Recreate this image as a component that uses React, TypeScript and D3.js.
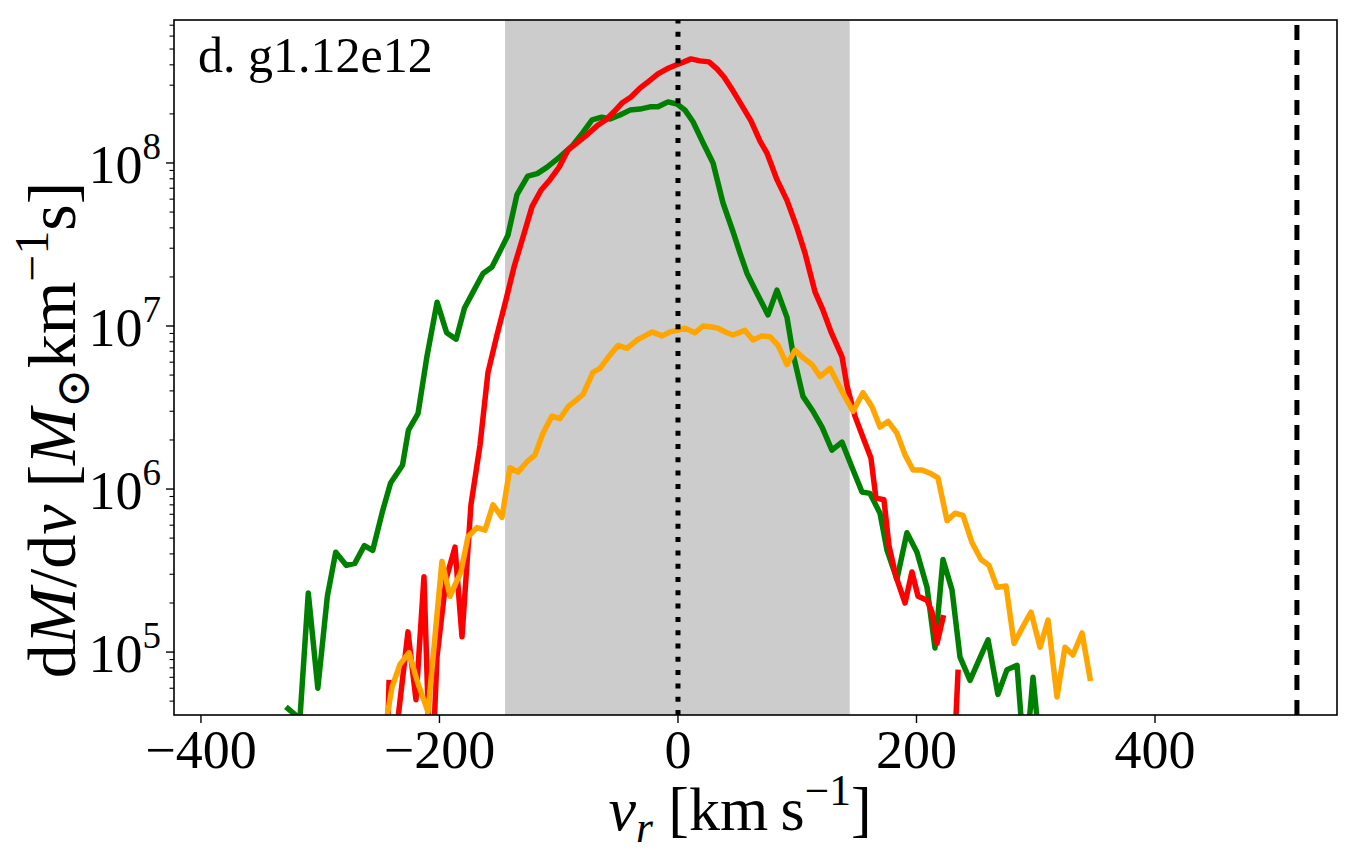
import React, { useEffect, useRef } from "react";
import * as d3 from "d3";

// radial velocity [km/s] and dM/dv [Msun km^-1 s]
// null = point not drawn (gap in the line)
const greenV = [
  -327, -317, -310, -302, -294, -287, -278, -271, -263, -256, -248, -241, -231, -226, -218, -210.5,
  -202, -194, -186, -179, -171, -163.5, -156, -149, -142.6, -135, -126, -118, -110, -99, -88, -80,
  -72, -64, -57, -48.6, -40.3, -31.9, -23.5, -16.8, -8.4, -0.8, 5.9, 12.6, 21, 29.4, 37.7, 46.1,
  52, 57.9, 66.2, 75.5, 83, 91.4, 96.4, 104.8, 113.2, 120.8, 129.1, 137.5, 145.9, 154.3, 161,
  169.4, 175.3, 183.6, 192, 200.4, 208.8, 215.5, 222.2, 229.8, 236.5, 244.9, 253.2, 260, 268.3,
  275.9, 284.3, 291, 297.7, 305.2,
];
const greenM = [
  4.5e4, 3.9e4, 2.3e5, 6.0e4, 2.2e5, 4.1e5, 3.4e5, 3.5e5, 4.5e5, 4.2e5, 7.2e5, 1.09e6, 1.4e6, 2.3e6,
  2.9e6, 6.5e6, 1.4e7, 9.1e6, 8.3e6, 1.29e7, 1.66e7, 2.1e7, 2.3e7, 2.9e7, 3.6e7, 6.4e7, 8.3e7,
  8.6e7, 9.4e7, 1.09e8, 1.29e8, 1.53e8, 1.84e8, 1.91e8, 1.86e8, 1.97e8, 2.11e8, 2.14e8, 2.21e8,
  2.21e8, 2.37e8, 2.3e8, 2.11e8, 1.79e8, 1.33e8, 1.0e8, 5.7e7, 3.8e7, 2.8e7, 2.1e7, 1.59e7, 1.17e7,
  1.66e7, 1.13e7, 6.8e6, 3.7e6, 3.0e6, 2.4e6, 1.73e6, 1.94e6, 1.36e6, 9.6e5, 9.4e5, 7.1e5, 4.2e5,
  2.8e5, 5.4e5, 4.1e5, 2.5e5, 1.06e5, 3.7e5, 2.4e5, 9.3e4, 6.7e4, 9.2e4, 1.19e5, 5.5e4, 7.8e4,
  8.3e4, 1.9e4, 7.0e4, 1.9e4,
];

const redV = [
  -244, -242.3, -238, -234.8, -226.4, -219.7, -213, -207.1, -202.1, -194.5, -187, -181.1, -173.6,
  -166, -159.3, -151.8, -144.2, -137.5, -130, -122.4, -114.9, -107.3, -99.8, -92.2, -84.7, -76.3,
  -67.9, -60.4, -53.7, -47, -39.4, -31.9, -24.3, -16.8, -9.2, -1.7, 5, 10.9, 18.4, 26, 32.7, 38.6,
  46.1, 53.7, 61.2, 68.8, 74.6, 83, 91.4, 99.8, 106.5, 114.9, 121.6, 128.3, 137.5, 141.7, 148.4,
  155.1, 161.8, 166, 172.7, 176.9, 182.8, 190.4, 196.2, 201.3, 208.8, 213, 217.2, 222.2, 226,
  229.8, 234.8,
];
const redM = [
  2.2e4, 6.5e4, null, 3.9e4, 1.33e5, 5.1e4, 2.9e5, 1.2e4, 9.3e4, 2.8e5, 4.4e5, 1.24e5, 8.0e5,
  1.86e6, 5.2e6, 8.8e6, 1.45e7, 2.3e7, 3.5e7, 5.4e7, 6.8e7, 7.9e7, 9.4e7, 1.2e8, 1.33e8, 1.49e8,
  1.69e8, 1.84e8, 2.06e8, 2.33e8, 2.54e8, 2.88e8, 3.18e8, 3.52e8, 3.78e8, 3.99e8, 4.17e8, 4.35e8,
  4.23e8, 4.17e8, 3.78e8, 3.37e8, 2.77e8, 2.24e8, 1.81e8, 1.36e8, 1.15e8, 7.9e7, 5.9e7, 4.0e7,
  2.8e7, 1.62e7, 1.25e7, 9.2e6, 6.5e6, 4.3e6, 2.8e6, 2.08e6, 1.55e6, 8.8e5, 8.6e5, 4.5e5, 2.9e5,
  2.0e5, 3.1e5, 2.2e5, 2.08e5, 1.76e5, 1.13e5, 1.62e5, null, 1.2e4, 7.5e4,
];

const orangeV = [
  -246.5, -239.8, -233.1, -225.6, -218, -209.6, -197.9, -191.2, -182, -176.1, -168.6, -161.8,
  -155.1, -147.6, -140.9, -134.2, -126.6, -119.9, -113.2, -105.7, -99, -92.2, -85.5, -79.7, -71.3,
  -65.4, -58.7, -50.3, -42.8, -34.4, -27.7, -21.8, -13.4, -6.7, -0.8, 5.9, 14.3, 21, 26.8, 33.5,
  41.1, 46.1, 56.2, 62.9, 70.4, 77.1, 83.9, 91.4, 98.1, 104.8, 112.4, 119.1, 127.5, 135.8, 141.7,
  146.8, 155.1, 162.7, 169.4, 176.1, 183.6, 190.4, 197.1, 204.6, 211.3, 218, 225.6, 232.3, 239,
  246.5, 254.1, 260.8, 267.5, 275.1, 281.8, 288.5, 296, 303.6, 310.3, 317.8, 324.5, 331.2, 338.8,
  345.5,
];
const orangeM = [
  3.1e4, 6.1e4, 8.4e4, 9.9e4, 6.4e4, 4.3e4, 3.6e5, 2.2e5, 3.1e5, 5.1e5, 5.8e5, 5.6e5, 8.0e5,
  6.7e5, 1.35e6, 1.27e6, 1.47e6, 1.62e6, 2.2e6, 2.8e6, 2.7e6, 3.2e6, 3.5e6, 3.8e6, 5.2e6, 5.5e6,
  6.4e6, 7.6e6, 7.3e6, 8.2e6, 8.7e6, 9.2e6, 8.7e6, 9.2e6, 9.4e6, 9.7e6, 9.1e6, 1.0e7, 9.9e6,
  9.7e6, 9.1e6, 8.8e6, 9.4e6, 8.2e6, 8.7e6, 8.6e6, 7.6e6, 5.8e6, 7.1e6, 6.4e6, 5.8e6, 4.9e6,
  5.5e6, 4.2e6, 3.5e6, 3.0e6, 3.9e6, 3.2e6, 2.4e6, 2.6e6, 2.2e6, 1.62e6, 1.31e6, 1.31e6, 1.25e6,
  1.17e6, 6.4e5, 7.1e5, 6.9e5, 4.7e5, 3.7e5, 3.4e5, 2.5e5, 2.54e5, 1.13e5, 1.4e5, 1.76e5, 1.07e5,
  1.57e5, 5.3e4, 1.07e5, 9.6e4, 1.31e5, 6.9e4,
];

const xTicks = [-400, -200, 0, 200, 400];
const xTickLabels = ["\u2212400", "\u2212200", "0", "200", "400"];
const yTicks = [1e5, 1e6, 1e7, 1e8];
const yTickExps = ["5", "6", "7", "8"];

const shade = [-145, 144];
const vMark = 519;
const panelLabel = "d. g1.12e12";

const FONT = "'Liberation Serif', 'DejaVu Serif', serif";

type Part = { t: string; it?: boolean; pos?: "sub" | "sup" };

// append tspans with italics / sub / superscripts
function richText(sel: any, parts: Part[], size: number) {
  let shift = 0;
  parts.forEach((p) => {
    const target = p.pos === "sub" ? size * 0.2 : p.pos === "sup" ? -size * 0.4 : 0;
    sel
      .append("tspan")
      .attr("dy", target - shift)
      .attr("font-size", p.pos ? size * 0.7 : size)
      .attr("font-style", p.it ? "italic" : "normal")
      .text(p.t);
    shift = target;
  });
}

const Chart = () => {
  const svgRef = useRef<SVGSVGElement>(null);

  useEffect(() => {
    const W = 1359;
    const H = 862;
    const left = 174;
    const right = 1337;
    const top = 20;
    const bottom = 715;

    const svg = d3.select(svgRef.current);
    svg.selectAll("*").remove();
    svg.attr("width", W).attr("height", H);

    const x = d3.scaleLinear().domain([-422.6, 552.6]).range([left, right]);
    const y = d3
      .scaleLog()
      .domain([Math.pow(10, 4.614), Math.pow(10, 8.877)])
      .range([bottom, top]);

    svg
      .append("defs")
      .append("clipPath")
      .attr("id", "plot-clip")
      .append("rect")
      .attr("x", left)
      .attr("y", top)
      .attr("width", right - left)
      .attr("height", bottom - top);

    const plot = svg.append("g").attr("clip-path", "url(#plot-clip)");

    // shaded velocity band
    plot
      .append("rect")
      .attr("x", x(shade[0]))
      .attr("y", top)
      .attr("width", x(shade[1]) - x(shade[0]))
      .attr("height", bottom - top)
      .attr("fill", "#cccccc");

    const line = d3
      .line<[number, number | null]>()
      .defined((d) => d[1] != null)
      .x((d) => x(d[0]))
      .y((d) => y(d[1] as number));

    const series: [number[], (number | null)[], string][] = [
      [greenV, greenM, "#008000"],
      [redV, redM, "#ff0000"],
      [orangeV, orangeM, "#ffa500"],
    ];
    series.forEach(([vs, ms, color]) => {
      const pts = vs.map((v, i) => [v, ms[i]] as [number, number | null]);
      plot
        .append("path")
        .attr("d", line(pts))
        .attr("fill", "none")
        .attr("stroke", color)
        .attr("stroke-width", 5.5)
        .attr("stroke-linejoin", "round")
        .attr("stroke-linecap", "square");
    });

    // v = 0 dotted line
    plot
      .append("line")
      .attr("x1", x(0))
      .attr("x2", x(0))
      .attr("y1", bottom)
      .attr("y2", top)
      .attr("stroke", "#000")
      .attr("stroke-width", 5)
      .attr("stroke-dasharray", "5,8.3");

    // dashed vertical marker
    plot
      .append("line")
      .attr("x1", x(vMark))
      .attr("x2", x(vMark))
      .attr("y1", bottom)
      .attr("y2", top)
      .attr("stroke", "#000")
      .attr("stroke-width", 5)
      .attr("stroke-dasharray", "15,10");

    // frame
    svg
      .append("rect")
      .attr("x", left)
      .attr("y", top)
      .attr("width", right - left)
      .attr("height", bottom - top)
      .attr("fill", "none")
      .attr("stroke", "#000")
      .attr("stroke-width", 1.6);

    // x ticks
    const xt = svg.append("g");
    xTicks.forEach((v, i) => {
      xt.append("line")
        .attr("x1", x(v))
        .attr("x2", x(v))
        .attr("y1", bottom)
        .attr("y2", bottom + 8)
        .attr("stroke", "#000")
        .attr("stroke-width", 1.4);
      xt.append("text")
        .attr("x", x(v))
        .attr("y", bottom + 53)
        .attr("text-anchor", "middle")
        .attr("font-family", FONT)
        .attr("font-size", 54)
        .text(xTickLabels[i]);
    });

    // y ticks (major + minor)
    const yt = svg.append("g");
    const [y0, y1] = y.domain();
    for (let e = 4; e <= 8; e++) {
      for (let m = 1; m <= 9; m++) {
        const val = m * Math.pow(10, e);
        if (val < y0 || val > y1) continue;
        yt.append("line")
          .attr("x1", left)
          .attr("x2", left - (m === 1 ? 8 : 4.5))
          .attr("y1", y(val))
          .attr("y2", y(val))
          .attr("stroke", "#000")
          .attr("stroke-width", m === 1 ? 1.4 : 1.1);
      }
    }
    yTicks.forEach((val, i) => {
      const t = yt
        .append("text")
        .attr("x", left - 13)
        .attr("y", y(val) + 20)
        .attr("text-anchor", "end")
        .attr("font-family", FONT)
        .attr("font-size", 54);
      t.append("tspan").text("10");
      t.append("tspan").attr("dy", -24).attr("font-size", 37).text(yTickExps[i]);
    });

    // panel label
    svg
      .append("text")
      .attr("x", 198)
      .attr("y", 72)
      .attr("font-family", FONT)
      .attr("font-size", 50)
      .text(panelLabel);

    // x label
    const xl = svg
      .append("text")
      .attr("x", 740)
      .attr("y", 830)
      .attr("text-anchor", "middle")
      .attr("font-family", FONT)
      .style("white-space", "pre");
    richText(
      xl,
      [
        { t: "v", it: true },
        { t: "r", it: true, pos: "sub" },
        { t: " [km\u2009s" },
        { t: "\u22121", pos: "sup" },
        { t: "]" },
      ],
      62
    );

    // y label
    const yl = svg
      .append("text")
      .attr("transform", "translate(75,430) rotate(-90)")
      .attr("text-anchor", "middle")
      .attr("font-family", FONT)
      .style("white-space", "pre");
    richText(
      yl,
      [
        { t: "d" },
        { t: "M", it: true },
        { t: "/d" },
        { t: "v", it: true },
        { t: " [" },
        { t: "M", it: true },
        { t: "\u2299", pos: "sub" },
        { t: "km" },
        { t: "\u22121", pos: "sup" },
        { t: "s]" },
      ],
      68
    );
  }, []);

  return (
    <div>
      <svg ref={svgRef} style={{ position: "absolute", left: 0, top: 0, background: "#fff" }}></svg>
    </div>
  );
};

export default function App() {
  return <Chart />;
}
